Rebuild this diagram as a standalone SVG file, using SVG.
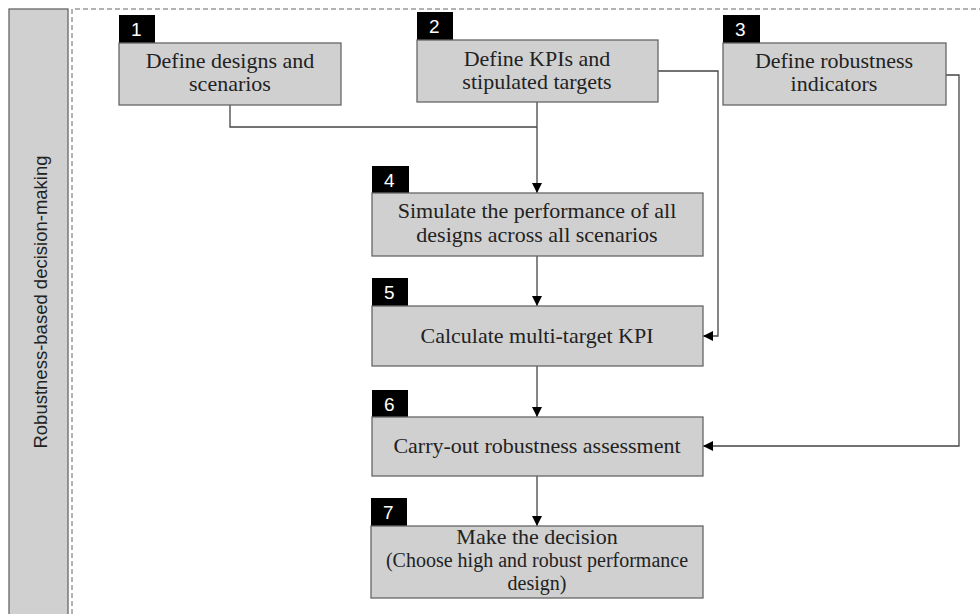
<svg xmlns="http://www.w3.org/2000/svg" width="980" height="614" viewBox="0 0 980 614">
<defs>
<marker id="arr" viewBox="0 0 10 10" refX="10" refY="5" markerWidth="10" markerHeight="10" markerUnits="userSpaceOnUse" orient="auto">
<path d="M0,0 L10,5 L0,10 Z" fill="#000"/>
</marker>
<style>
.box{fill:#d0d0d0;stroke:#666;stroke-width:1.3}
.tag{fill:#000}
.num{fill:#fff;font-family:"Liberation Sans",Arial,sans-serif;font-size:19px}
.t{fill:#222;font-family:"Liberation Serif","Times New Roman",serif;font-size:22px;text-anchor:middle}
.t2{fill:#222;font-family:"Liberation Serif","Times New Roman",serif;font-size:20px;text-anchor:middle}
.c{fill:none;stroke:#444;stroke-width:1.3}
</style>
</defs>
<rect width="980" height="614" fill="#fff"/>
<g id="lane">
<rect x="9" y="9" width="59" height="615" fill="#d0d0d0" stroke="#666" stroke-width="1.3"/>
<text transform="translate(47,302) rotate(-90)" text-anchor="middle" font-family="'Liberation Sans',Arial,sans-serif" font-size="18.5" fill="#222">Robustness-based decision-making</text>
<path d="M72,614 V9 H980" fill="none" stroke="#666" stroke-width="1" stroke-dasharray="5,3"/>
</g>
<g id="connectors">
<path class="c" d="M230,105 V127 H537"/>
<path class="c" d="M537,102 V193" marker-end="url(#arr)"/>
<path class="c" d="M658,71 H718 V336 H703" marker-end="url(#arr)"/>
<path class="c" d="M946,75 H959 V446 H703" marker-end="url(#arr)"/>
<path class="c" d="M537,256 V306" marker-end="url(#arr)"/>
<path class="c" d="M537,366 V417" marker-end="url(#arr)"/>
<path class="c" d="M537,476 V526" marker-end="url(#arr)"/>
</g>
<g id="n1">
<rect class="tag" x="119" y="15" width="36" height="28"/>
<text class="num" x="131" y="36">1</text>
<rect class="box" x="119" y="43" width="222" height="62"/>
<text class="t" x="230" y="68">Define designs and</text>
<text class="t" x="230" y="91">scenarios</text>
</g>
<g id="n2">
<rect class="tag" x="417" y="12" width="36" height="28"/>
<text class="num" x="429" y="33">2</text>
<rect class="box" x="417" y="40" width="241" height="62"/>
<text class="t" x="537" y="66">Define KPIs and</text>
<text class="t" x="537" y="89">stipulated targets</text>
</g>
<g id="n3">
<rect class="tag" x="723" y="15" width="37" height="28"/>
<text class="num" x="735" y="36">3</text>
<rect class="box" x="723" y="43" width="223" height="62"/>
<text class="t" x="834" y="68">Define robustness</text>
<text class="t" x="834" y="91">indicators</text>
</g>
<g id="n4">
<rect class="tag" x="372" y="166" width="37" height="27"/>
<text class="num" x="384" y="187">4</text>
<rect class="box" x="372" y="193" width="331" height="63"/>
<text class="t" x="537" y="218">Simulate the performance of all</text>
<text class="t" x="537" y="242">designs across all scenarios</text>
</g>
<g id="n5">
<rect class="tag" x="372" y="278" width="36" height="28"/>
<text class="num" x="384" y="299">5</text>
<rect class="box" x="372" y="306" width="331" height="60"/>
<text class="t" x="537" y="343">Calculate multi-target KPI</text>
</g>
<g id="n6">
<rect class="tag" x="372" y="390" width="36" height="27"/>
<text class="num" x="384" y="411">6</text>
<rect class="box" x="372" y="417" width="331" height="59"/>
<text class="t" x="537" y="453">Carry-out robustness assessment</text>
</g>
<g id="n7">
<rect class="tag" x="371" y="498" width="36" height="28"/>
<text class="num" x="383" y="519">7</text>
<rect class="box" x="371" y="526" width="332" height="72"/>
<text class="t" x="537" y="544" font-size="23">Make the decision</text>
<text class="t2" x="537" y="567">(Choose high and robust performance</text>
<text class="t2" x="537" y="590">design)</text>
</g>
</svg>
